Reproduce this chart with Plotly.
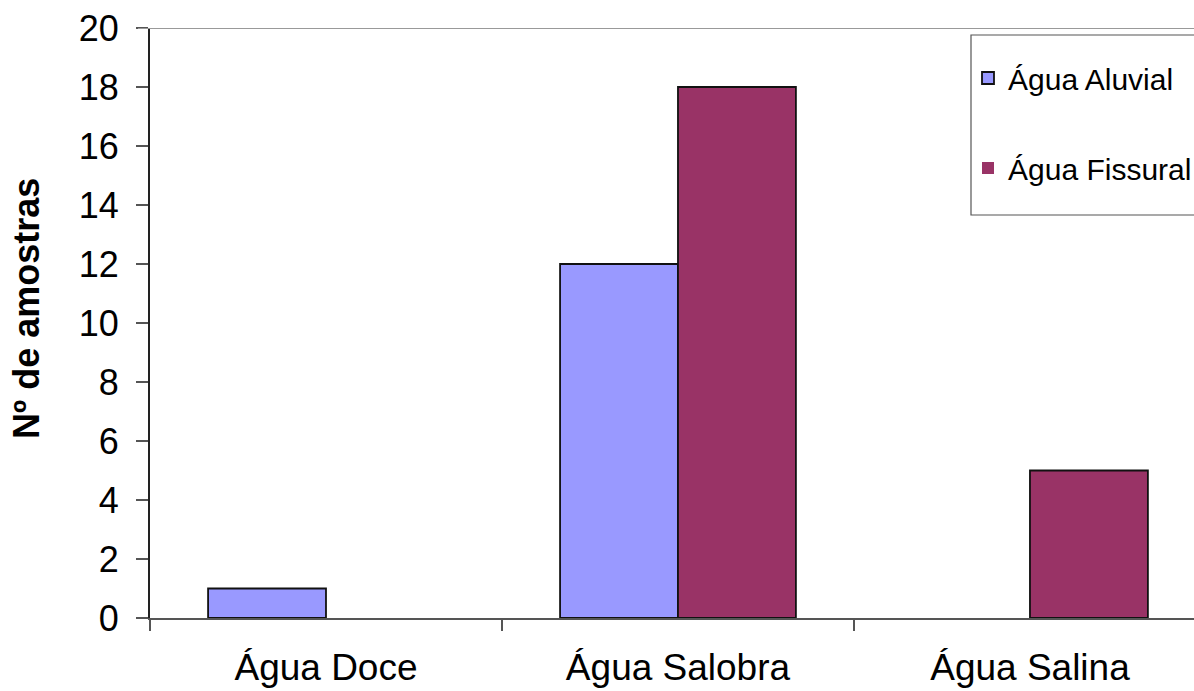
import plotly.graph_objects as go

# Número de amostras por tipo de água e origem
categorias = ["Água Doce", "Água Salobra", "Água Salina"]
agua_aluvial = [1, 12, 0]
agua_fissural = [0, 18, 5]
y_ticks = [0, 2, 4, 6, 8, 10, 12, 14, 16, 18, 20]

FONT = "Liberation Sans, Arial, sans-serif"
COR_ALUVIAL = "#9999FF"
COR_FISSURAL = "#993366"


def contorno(valores):
    # barras de altura zero ficam sem contorno
    return [1.8 if v else 0 for v in valores]


fig = go.Figure()
fig.add_trace(go.Bar(
    x=categorias, y=agua_aluvial, name="Água Aluvial", legendgroup="a",
    marker=dict(color=COR_ALUVIAL, line=dict(color="#111111", width=contorno(agua_aluvial))),
))
fig.add_trace(go.Bar(
    x=categorias, y=agua_fissural, name="Água Fissural", legendgroup="b",
    marker=dict(color=COR_FISSURAL, line=dict(color="#111111", width=contorno(agua_fissural))),
))

W, H = 1194, 691
ML, MR, MT, MB = 150, 0, 28, 73
pw = W - ML - MR


def px_x(p):
    return (p - ML) / pw


def px_y(p):
    return (H - MB - p) / (H - MT - MB)


fig.update_layout(
    width=W, height=H,
    margin=dict(l=ML, r=MR, t=MT, b=MB, pad=0, autoexpand=False),
    paper_bgcolor="white", plot_bgcolor="white",
    font=dict(family=FONT, color="black"),
    barmode="group", bargap=0.33, bargroupgap=0,
    showlegend=True,
    legend=dict(
        x=px_x(968), y=px_y(52), xanchor="left", yanchor="top",
        font=dict(size=30, family=FONT, color="black"), tracegroupgap=48,
        bgcolor="rgba(0,0,0,0)", borderwidth=0,
    ),
    shapes=[
        # linha superior da área do gráfico
        dict(type="line", xref="paper", yref="y", x0=px_x(138), x1=1.02, y0=20, y1=20,
             line=dict(color="#999999", width=2)),
        # caixa da legenda
        dict(type="rect", xref="paper", yref="paper",
             x0=px_x(971), x1=1.05, y0=px_y(215), y1=px_y(35),
             line=dict(color="#555555", width=1.2), fillcolor="rgba(0,0,0,0)"),
    ],
    annotations=[
        dict(text="<b>Nº de amostras</b>", xref="paper", yref="paper",
             x=px_x(26), y=px_y(309), xanchor="center", yanchor="middle",
             textangle=-90, showarrow=False,
             font=dict(size=36, family=FONT, color="black")),
    ],
)

fig.update_xaxes(
    type="category", range=[-0.5, 2.466],
    showline=True, linecolor="#555555", linewidth=2,
    ticks="outside", tickson="boundaries", ticklen=11, tickcolor="#555555", tickwidth=1.5,
    tickfont=dict(size=37, family=FONT, color="black"),
    ticklabelstandoff=16,
    showgrid=False, zeroline=False, fixedrange=True,
    automargin=False,
)
fig.update_yaxes(
    range=[0, 20], tickvals=y_ticks,
    showline=True, linecolor="#222222", linewidth=2,
    ticks="outside", ticklen=12, tickcolor="#555555", tickwidth=1.5,
    tickfont=dict(size=36, family=FONT, color="black"),
    ticklabelstandoff=10,
    showgrid=False, zeroline=False,
    automargin=False,
)

fig.write_html("out.html")
